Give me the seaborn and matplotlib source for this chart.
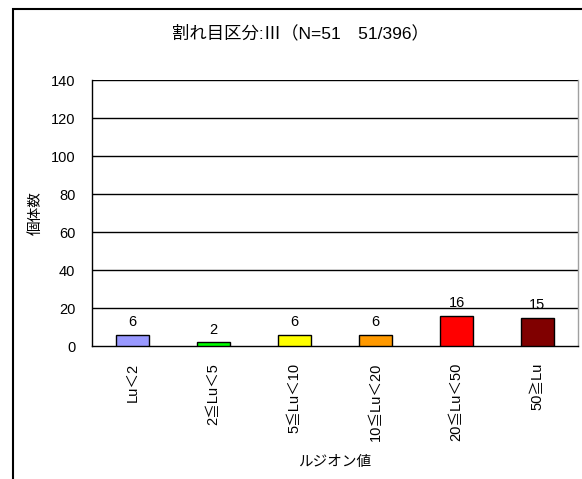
import matplotlib
matplotlib.use("Agg")
import matplotlib.pyplot as plt
from matplotlib.patches import Rectangle
import seaborn as sns
import pandas as pd

categories = ["Lu＜2", "2≦Lu＜5", "5≦Lu＜10", "10≦Lu＜20", "20≦Lu＜50", "50≧Lu"]
counts = [6, 2, 6, 6, 16, 15]
bar_colors = ["#9999FF", "#00FF00", "#FFFF00", "#FF9900", "#FF0000", "#800000"]
y_ticks = [0, 20, 40, 60, 80, 100, 120, 140]

title = "割れ目区分:Ⅲ（N=51　51/396）"
x_label = "ルジオン値"
y_label = "個体数"

sns.set_style("white")
plt.rcParams["font.family"] = ["Liberation Sans", "Noto Sans CJK JP", "DejaVu Sans"]
plt.rcParams.update({
    "text.color": "black",
    "axes.labelcolor": "black",
    "xtick.color": "black",
    "ytick.color": "black",
})

df = pd.DataFrame({"class": categories, "count": counts})

fig = plt.figure(figsize=(5.82, 4.79), dpi=100)
ax = fig.add_axes([92 / 582, 1 - 346 / 479, 486 / 582, 266 / 479])

sns.barplot(data=df, x="class", y="count", hue="class", palette=bar_colors,
            order=categories, hue_order=categories, legend=False,
            width=0.4, edgecolor="black", linewidth=1, saturation=1, ax=ax, zorder=3)

ax.set_ylim(0, 140)
ax.set_xlim(-0.5, len(categories) - 0.5)
ax.set_yticks(y_ticks)
ax.set_yticklabels([str(v) for v in y_ticks], fontsize=10.5)
for v in y_ticks[1:]:
    ax.axhline(v, color="black", linewidth=1, zorder=1)

ax.set_xticks(range(len(categories)))
ax.set_xticklabels(categories, rotation=90, fontsize=10.5)
ax.set_xticks([i + 0.5 for i in range(len(categories) - 1)], minor=True)
ax.tick_params(axis="x", which="major", length=0, pad=12)
ax.tick_params(axis="x", which="minor", direction="in", length=4, color="#808080", width=1)
ax.tick_params(axis="y", which="major", length=3, direction="out", pad=9)

for i, v in enumerate(counts):
    ax.text(i, v + 3, str(v), ha="center", va="bottom", fontsize=10.5)

for side in ["left", "bottom"]:
    ax.spines[side].set_color("black")
    ax.spines[side].set_linewidth(1)
ax.spines["top"].set_visible(False)
ax.spines["right"].set_color("#A0A0A0")
ax.spines["right"].set_linewidth(1)

ax.set_xlabel(x_label, fontsize=10.5, labelpad=10)
ax.set_ylabel(y_label, fontsize=10.5, labelpad=6)

fig.text(300 / 582, 1 - 33 / 479, title, ha="center", va="center", fontsize=12.5)

# outer frame around the chart area
fig.patches.append(Rectangle((13 / 582, -0.1), 1.2, 1.1 - 9 / 479,
                             transform=fig.transFigure, fill=False,
                             edgecolor="black", linewidth=1.5, clip_on=False))

fig.savefig("out.png", dpi=100)
